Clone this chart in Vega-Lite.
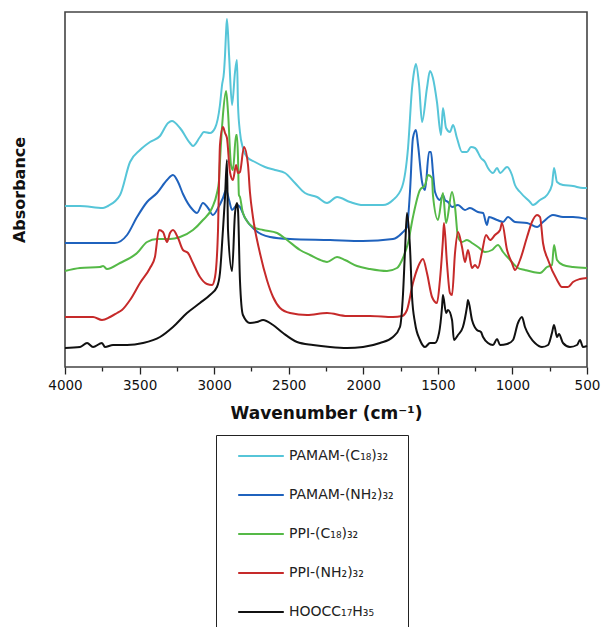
{
  "$schema": "https://vega.github.io/schema/vega-lite/v6.json",
  "width": 522,
  "height": 355,
  "autosize": {"type": "none"},
  "padding": {"left": 65, "top": 12, "right": 14, "bottom": 260},
  "background": "white",
  "config": {
    "view": {"stroke": "#444", "strokeWidth": 1.6},
    "font": "DejaVu Sans"
  },
  "datasets": {
    "cyan": [{"w":4000,"a":161},{"w":3900,"a":161},{"w":3745,"a":159},{"w":3712,"a":161},{"w":3631,"a":172},{"w":3564,"a":205},{"w":3497,"a":217},{"w":3430,"a":225},{"w":3363,"a":231},{"w":3309,"a":244},{"w":3283,"a":246},{"w":3229,"a":239},{"w":3162,"a":224},{"w":3142,"a":221},{"w":3095,"a":230},{"w":3068,"a":235},{"w":3028,"a":234},{"w":2994,"a":239},{"w":2961,"a":262},{"w":2947,"a":282},{"w":2934,"a":295},{"w":2927,"a":312},{"w":2920,"a":335},{"w":2914,"a":348},{"w":2900,"a":312},{"w":2880,"a":262},{"w":2860,"a":295},{"w":2847,"a":307},{"w":2840,"a":262},{"w":2827,"a":235},{"w":2807,"a":219},{"w":2780,"a":210},{"w":2726,"a":205},{"w":2659,"a":200},{"w":2592,"a":197},{"w":2525,"a":194},{"w":2458,"a":184},{"w":2391,"a":174},{"w":2310,"a":170},{"w":2243,"a":164},{"w":2176,"a":170},{"w":2089,"a":165},{"w":2002,"a":162},{"w":1868,"a":162},{"w":1801,"a":167},{"w":1740,"a":180},{"w":1700,"a":219},{"w":1673,"a":279},{"w":1660,"a":295},{"w":1647,"a":303},{"w":1626,"a":282},{"w":1606,"a":245},{"w":1573,"a":279},{"w":1553,"a":296},{"w":1533,"a":289},{"w":1506,"a":265},{"w":1479,"a":232},{"w":1466,"a":259},{"w":1445,"a":239},{"w":1419,"a":235},{"w":1398,"a":242},{"w":1372,"a":229},{"w":1338,"a":215},{"w":1305,"a":215},{"w":1278,"a":220},{"w":1251,"a":219},{"w":1211,"a":209},{"w":1184,"a":205},{"w":1164,"a":199},{"w":1130,"a":194},{"w":1103,"a":199},{"w":1083,"a":194},{"w":1036,"a":200},{"w":1003,"a":192},{"w":983,"a":182},{"w":949,"a":175},{"w":882,"a":165},{"w":862,"a":162},{"w":815,"a":167},{"w":768,"a":172},{"w":735,"a":182},{"w":721,"a":199},{"w":701,"a":185},{"w":661,"a":182},{"w":594,"a":181},{"w":527,"a":179},{"w":500,"a":179}],
    "blue": [{"w":4000,"a":124},{"w":3665,"a":124},{"w":3584,"a":132},{"w":3517,"a":150},{"w":3450,"a":165},{"w":3383,"a":174},{"w":3316,"a":187},{"w":3276,"a":192},{"w":3242,"a":185},{"w":3209,"a":173},{"w":3142,"a":157},{"w":3115,"a":154},{"w":3075,"a":164},{"w":3041,"a":159},{"w":3008,"a":152},{"w":2974,"a":159},{"w":2941,"a":169},{"w":2920,"a":177},{"w":2900,"a":167},{"w":2880,"a":157},{"w":2847,"a":162},{"w":2827,"a":160},{"w":2793,"a":149},{"w":2726,"a":137},{"w":2625,"a":130},{"w":2491,"a":128},{"w":2223,"a":127},{"w":2002,"a":126},{"w":1801,"a":128},{"w":1740,"a":134},{"w":1707,"a":140},{"w":1687,"a":175},{"w":1667,"a":229},{"w":1647,"a":237},{"w":1633,"a":222},{"w":1606,"a":185},{"w":1586,"a":177},{"w":1559,"a":215},{"w":1546,"a":215},{"w":1533,"a":195},{"w":1519,"a":175},{"w":1486,"a":167},{"w":1466,"a":172},{"w":1452,"a":167},{"w":1432,"a":165},{"w":1405,"a":160},{"w":1365,"a":162},{"w":1318,"a":157},{"w":1285,"a":159},{"w":1231,"a":155},{"w":1197,"a":154},{"w":1171,"a":142},{"w":1157,"a":150},{"w":1103,"a":147},{"w":1063,"a":145},{"w":1030,"a":150},{"w":983,"a":145},{"w":902,"a":144},{"w":835,"a":140},{"w":795,"a":145},{"w":728,"a":152},{"w":661,"a":150},{"w":594,"a":150},{"w":500,"a":148}],
    "green": [{"w":4000,"a":96},{"w":3899,"a":99},{"w":3765,"a":100},{"w":3745,"a":101},{"w":3718,"a":98},{"w":3631,"a":104},{"w":3517,"a":114},{"w":3450,"a":125},{"w":3383,"a":128},{"w":3296,"a":128},{"w":3229,"a":130},{"w":3142,"a":137},{"w":3075,"a":147},{"w":3014,"a":159},{"w":2981,"a":174},{"w":2967,"a":187},{"w":2961,"a":205},{"w":2941,"a":252},{"w":2920,"a":276},{"w":2907,"a":255},{"w":2887,"a":202},{"w":2874,"a":197},{"w":2853,"a":232},{"w":2847,"a":232},{"w":2840,"a":209},{"w":2834,"a":172},{"w":2827,"a":170},{"w":2807,"a":154},{"w":2740,"a":140},{"w":2672,"a":137},{"w":2578,"a":134},{"w":2511,"a":127},{"w":2424,"a":117},{"w":2357,"a":112},{"w":2270,"a":106},{"w":2243,"a":105},{"w":2176,"a":110},{"w":2123,"a":107},{"w":2042,"a":101},{"w":1955,"a":98},{"w":1841,"a":96},{"w":1774,"a":99},{"w":1734,"a":109},{"w":1700,"a":124},{"w":1667,"a":150},{"w":1620,"a":177},{"w":1586,"a":182},{"w":1566,"a":192},{"w":1539,"a":189},{"w":1533,"a":172},{"w":1499,"a":147},{"w":1466,"a":174},{"w":1445,"a":144},{"w":1405,"a":175},{"w":1385,"a":160},{"w":1365,"a":130},{"w":1338,"a":125},{"w":1305,"a":127},{"w":1271,"a":124},{"w":1231,"a":120},{"w":1184,"a":115},{"w":1137,"a":117},{"w":1097,"a":122},{"w":1063,"a":115},{"w":1016,"a":107},{"w":963,"a":99},{"w":916,"a":97},{"w":862,"a":95},{"w":815,"a":94},{"w":768,"a":100},{"w":735,"a":102},{"w":721,"a":122},{"w":701,"a":107},{"w":661,"a":102},{"w":594,"a":100},{"w":500,"a":99}],
    "red": [{"w":4000,"a":50},{"w":3899,"a":50},{"w":3812,"a":50},{"w":3752,"a":47},{"w":3698,"a":50},{"w":3651,"a":54},{"w":3618,"a":57},{"w":3564,"a":67},{"w":3497,"a":84},{"w":3430,"a":99},{"w":3397,"a":110},{"w":3370,"a":137},{"w":3343,"a":135},{"w":3316,"a":125},{"w":3296,"a":134},{"w":3276,"a":137},{"w":3242,"a":129},{"w":3209,"a":117},{"w":3175,"a":114},{"w":3142,"a":104},{"w":3095,"a":90},{"w":3048,"a":83},{"w":3014,"a":82},{"w":2994,"a":90},{"w":2974,"a":137},{"w":2967,"a":187},{"w":2961,"a":222},{"w":2941,"a":240},{"w":2927,"a":234},{"w":2914,"a":229},{"w":2894,"a":195},{"w":2874,"a":187},{"w":2853,"a":202},{"w":2840,"a":194},{"w":2827,"a":195},{"w":2800,"a":220},{"w":2773,"a":202},{"w":2760,"a":175},{"w":2740,"a":150},{"w":2693,"a":114},{"w":2646,"a":87},{"w":2605,"a":70},{"w":2558,"a":59},{"w":2491,"a":54},{"w":2377,"a":52},{"w":2243,"a":54},{"w":2109,"a":51},{"w":1955,"a":51},{"w":1801,"a":50},{"w":1740,"a":51},{"w":1707,"a":57},{"w":1667,"a":84},{"w":1633,"a":100},{"w":1600,"a":108},{"w":1573,"a":94},{"w":1539,"a":70},{"w":1506,"a":64},{"w":1486,"a":87},{"w":1466,"a":127},{"w":1459,"a":144},{"w":1439,"a":104},{"w":1419,"a":74},{"w":1405,"a":72},{"w":1385,"a":114},{"w":1365,"a":135},{"w":1338,"a":120},{"w":1318,"a":105},{"w":1298,"a":117},{"w":1271,"a":99},{"w":1251,"a":102},{"w":1231,"a":99},{"w":1204,"a":115},{"w":1177,"a":132},{"w":1150,"a":127},{"w":1117,"a":132},{"w":1083,"a":137},{"w":1070,"a":144},{"w":1036,"a":117},{"w":1003,"a":104},{"w":983,"a":97},{"w":949,"a":107},{"w":902,"a":130},{"w":869,"a":145},{"w":835,"a":152},{"w":815,"a":150},{"w":795,"a":124},{"w":761,"a":107},{"w":701,"a":87},{"w":668,"a":80},{"w":628,"a":80},{"w":594,"a":85},{"w":547,"a":88},{"w":500,"a":89}],
    "black": [{"w":4000,"a":19},{"w":3899,"a":20},{"w":3852,"a":24},{"w":3812,"a":20},{"w":3752,"a":24},{"w":3732,"a":20},{"w":3678,"a":22},{"w":3584,"a":22},{"w":3477,"a":24},{"w":3363,"a":30},{"w":3276,"a":40},{"w":3182,"a":54},{"w":3095,"a":64},{"w":3028,"a":72},{"w":2981,"a":80},{"w":2961,"a":94},{"w":2941,"a":137},{"w":2927,"a":170},{"w":2914,"a":207},{"w":2907,"a":137},{"w":2880,"a":96},{"w":2860,"a":154},{"w":2847,"a":164},{"w":2840,"a":157},{"w":2827,"a":87},{"w":2807,"a":52},{"w":2760,"a":44},{"w":2713,"a":45},{"w":2672,"a":47},{"w":2605,"a":42},{"w":2538,"a":34},{"w":2444,"a":25},{"w":2337,"a":22},{"w":2223,"a":20},{"w":2109,"a":19},{"w":2002,"a":20},{"w":1888,"a":24},{"w":1801,"a":30},{"w":1754,"a":40},{"w":1734,"a":72},{"w":1720,"a":117},{"w":1707,"a":154},{"w":1687,"a":120},{"w":1673,"a":70},{"w":1653,"a":44},{"w":1620,"a":27},{"w":1586,"a":20},{"w":1553,"a":24},{"w":1519,"a":24},{"w":1492,"a":34},{"w":1472,"a":60},{"w":1466,"a":72},{"w":1445,"a":54},{"w":1432,"a":57},{"w":1405,"a":47},{"w":1392,"a":27},{"w":1365,"a":32},{"w":1332,"a":40},{"w":1305,"a":60},{"w":1298,"a":67},{"w":1271,"a":47},{"w":1238,"a":37},{"w":1211,"a":35},{"w":1197,"a":30},{"w":1164,"a":24},{"w":1130,"a":22},{"w":1103,"a":28},{"w":1083,"a":22},{"w":1036,"a":23},{"w":996,"a":27},{"w":963,"a":44},{"w":936,"a":50},{"w":916,"a":40},{"w":882,"a":30},{"w":849,"a":24},{"w":802,"a":20},{"w":761,"a":22},{"w":735,"a":34},{"w":721,"a":42},{"w":701,"a":30},{"w":688,"a":33},{"w":661,"a":24},{"w":614,"a":20},{"w":567,"a":22},{"w":547,"a":27},{"w":527,"a":20},{"w":500,"a":21}]
  },
  "encoding": {
    "x": {
      "field": "w", "type": "quantitative",
      "scale": {"domain": [500, 4000], "reverse": true, "nice": false, "zero": false},
      "axis": {
        "title": "Wavenumber (cm⁻¹)",
        "values": [4000,3750,3500,3250,3000,2750,2500,2250,2000,1750,1500,1250,1000,750,500],
        "labelExpr": "datum.value % 500 === 0 ? format(datum.value, 'd') : ''",
        "grid": false, "domain": false,
        "tickColor": "#222", "tickWidth": 1.3,
        "tickSize": {"condition": {"test": "datum.value % 500 === 0", "value": 7}, "value": 4},
        "labelFont": "DejaVu Sans", "labelFontSize": 13.5, "labelColor": "#111", "labelPadding": 4,
        "labelFlush": false, "labelOverlap": false,
        "titleFont": "DejaVu Sans", "titleFontSize": 17, "titleFontWeight": "bold", "titleColor": "#111", "titlePadding": 14
      }
    },
    "y": {
      "field": "a", "type": "quantitative",
      "scale": {"domain": [0, 355], "nice": false},
      "axis": {
        "title": "Absorbance", "ticks": false, "labels": false, "domain": false, "grid": false,
        "titleFont": "DejaVu Sans", "titleFontSize": 16, "titleFontWeight": "bold", "titleColor": "#111", "titlePadding": 38
      }
    },
    "color": {
      "type": "nominal",
      "scale": {
        "domain": ["PAMAM-(C₁₈)₃₂", "PAMAM-(NH₂)₃₂", "PPI-(C₁₈)₃₂", "PPI-(NH₂)₃₂", "HOOCC₁₇H₃₅"],
        "range": ["#56c5d8", "#1f62bd", "#55b947", "#c62a2a", "#111111"]
      },
      "legend": {
        "title": null, "orient": "none", "legendX": 151, "legendY": 423,
        "direction": "vertical",
        "strokeColor": "#222", "padding": 14, "fillColor": "white",
        "symbolType": "M-3.8,0H3.8", "symbolSize": 144, "symbolStrokeWidth": 2, "symbolOffset": 24,
        "labelFont": "DejaVu Sans", "labelFontSize": 14, "labelColor": "#222", "labelOffset": 21,
        "rowPadding": 25
      }
    }
  },
  "layer": [
    {"data": {"name": "cyan"}, "mark": {"type": "line", "strokeWidth": 2, "interpolate": "monotone"}, "encoding": {"color": {"datum": "PAMAM-(C₁₈)₃₂"}}},
    {"data": {"name": "blue"}, "mark": {"type": "line", "strokeWidth": 2, "interpolate": "monotone"}, "encoding": {"color": {"datum": "PAMAM-(NH₂)₃₂"}}},
    {"data": {"name": "green"}, "mark": {"type": "line", "strokeWidth": 2, "interpolate": "monotone"}, "encoding": {"color": {"datum": "PPI-(C₁₈)₃₂"}}},
    {"data": {"name": "red"}, "mark": {"type": "line", "strokeWidth": 2, "interpolate": "monotone"}, "encoding": {"color": {"datum": "PPI-(NH₂)₃₂"}}},
    {"data": {"name": "black"}, "mark": {"type": "line", "strokeWidth": 2, "interpolate": "monotone"}, "encoding": {"color": {"datum": "HOOCC₁₇H₃₅"}}}
  ]
}
